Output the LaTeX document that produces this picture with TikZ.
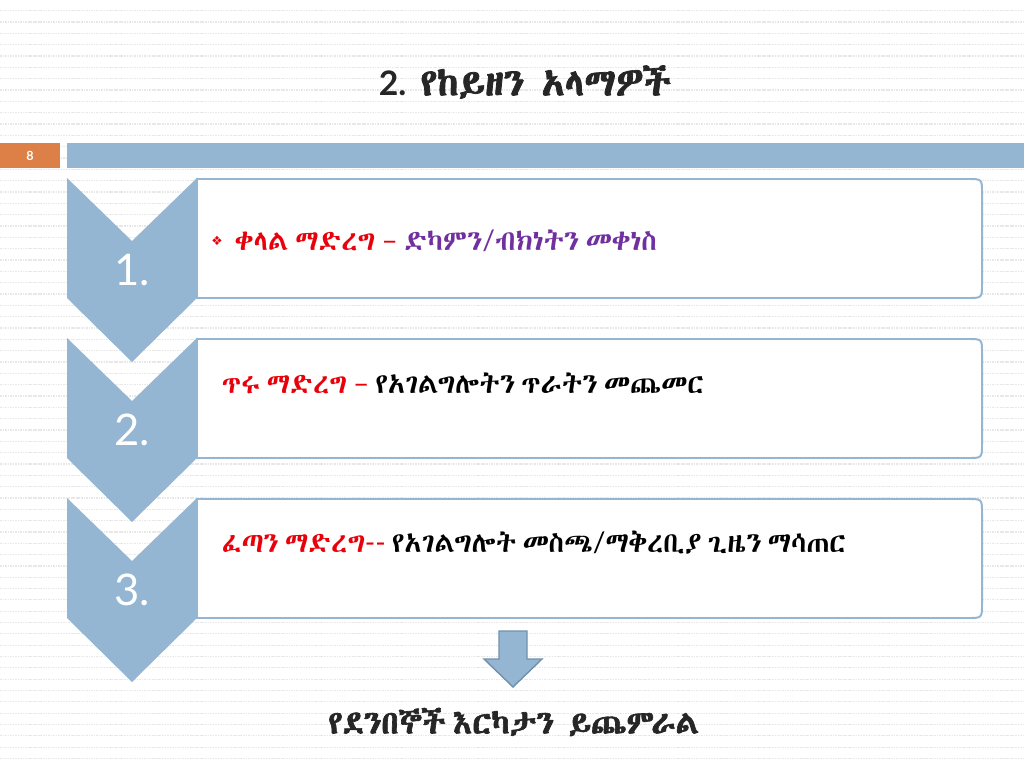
\documentclass[tikz,border=0pt]{standalone}
\usepackage{fontspec}
\setmainfont{Lato}
\IfFontExistsTF{Abyssinica SIL}{%
  \newfontfamily\ethfont{Abyssinica SIL}[WordSpace=0.5, BoldFont={Abyssinica SIL}, BoldFeatures={FakeBold=2}]}{%
  \IfFontExistsTF{FreeSerif}{\newfontfamily\ethfont{FreeSerif}[WordSpace=0.5]}{%
    \IfFontExistsTF{FreeSans}{\newfontfamily\ethfont{FreeSans}[WordSpace=0.5]}{%
      \newfontfamily\ethfont{DejaVu Sans}}}}
\newfontfamily\dingfont{DejaVu Sans}
\definecolor{chevblue}{HTML}{94B6D2}
\definecolor{slideorange}{HTML}{DD8047}
\definecolor{arrowedge}{HTML}{7190AE}
\definecolor{keyred}{HTML}{E8000B}
\definecolor{keypurple}{HTML}{7030A0}
\definecolor{titleink}{HTML}{262626}
\tikzset{%
	chevron/.style   = {fill=chevblue, draw=none},
	stepframe/.style = {draw=chevblue, line width=1.4pt, fill=white},
	stepnum/.style   = {text=white, font=\fontsize{31}{31}\selectfont}, % numbers in chevrons
	steptext/.style  = {anchor=west, font=\ethfont\fontsize{20}{24}\selectfont},
	heading/.style   = {text=titleink, font=\ethfont\bfseries\fontsize{27}{27}\selectfont},
	bgdots/.style    = {black!9, line width=0.9pt, dash pattern=on 1.2pt off 0.6pt}
}

\begin{document}
\begin{tikzpicture}[x=0.025cm,y=-0.025cm]
	\useasboundingbox[fill=white] (0,0) rectangle (1024,768);
	% faint rules of the slide background
	\foreach \k in {0,...,66}
		\draw[bgdots] (0,{10.7+11.33*\k}) -- (1024,{10.7+11.33*\k});

	% header bar
	\fill[slideorange] (0,143) rectangle (60,168);
	\fill[chevblue] (67,143) rectangle (1024,168);
	\node[text=white, font=\bfseries\fontsize{9}{9}\selectfont] (pagenum) at (30,155.5) {8};

	\node[heading] (title) at (525,82) {{\rmfamily\fontsize{24}{24}\selectfont 2.} የከይዘን\ \ አላማዎች};

	% chevrons and frames
	\foreach \i/\num in {0/1.,1/2.,2/3.} {
		\pgfmathsetmacro\ytop{178+160*\i}
		\draw[stepframe] (197,\ytop+1) -- (968,\ytop+1) .. controls (982,\ytop+1) .. (982,\ytop+15)
			-- (982,\ytop+106) .. controls (982,\ytop+120) .. (968,\ytop+120) -- (197,\ytop+120) -- cycle;
		\fill[chevron] (67,\ytop) -- (132,\ytop+63) -- (197,\ytop) -- (197,\ytop+120)
			-- (132,\ytop+184) -- (67,\ytop+120) -- cycle;
		\node[stepnum] (num\i) at (132,\ytop+92) {\num};
	}

	\node[anchor=center, text=keyred, font=\dingfont\fontsize{9}{9}\selectfont] (bullet) at (217,241) {❖};
	\node[steptext] (rowone) at (230,241)
		{\textcolor{keyred}{ቀላል ማድረግ {\rmfamily –}} \textcolor{keypurple}{ድካምን{\rmfamily /}ብክነትን መቀነስ}};
	\node[steptext] (rowtwo) at (217,383)
		{\textcolor{keyred}{ጥሩ ማድረግ {\rmfamily –}} የአገልግሎትን ጥራትን መጨመር};
	\node[steptext] (rowthree) at (217,543)
		{\textcolor{keyred}{ፈጣን ማድረግ{\rmfamily -{}-}} የአገልግሎት መስጫ{\rmfamily /}ማቅረቢያ ጊዜን ማሳጠር};

	% down arrow to the result
	\draw[fill=chevblue, draw=arrowedge, line width=1pt] (499,631) -- (527,631) -- (527,659) -- (542,659)
		-- (513,687) -- (484,659) -- (499,659) -- cycle;

	\node[heading, font=\ethfont\bfseries\fontsize{23}{23}\selectfont] (result) at (514,722)
		{የደንበኞች እርካታን\ \ ይጨምራል};
\end{tikzpicture}
\end{document}
